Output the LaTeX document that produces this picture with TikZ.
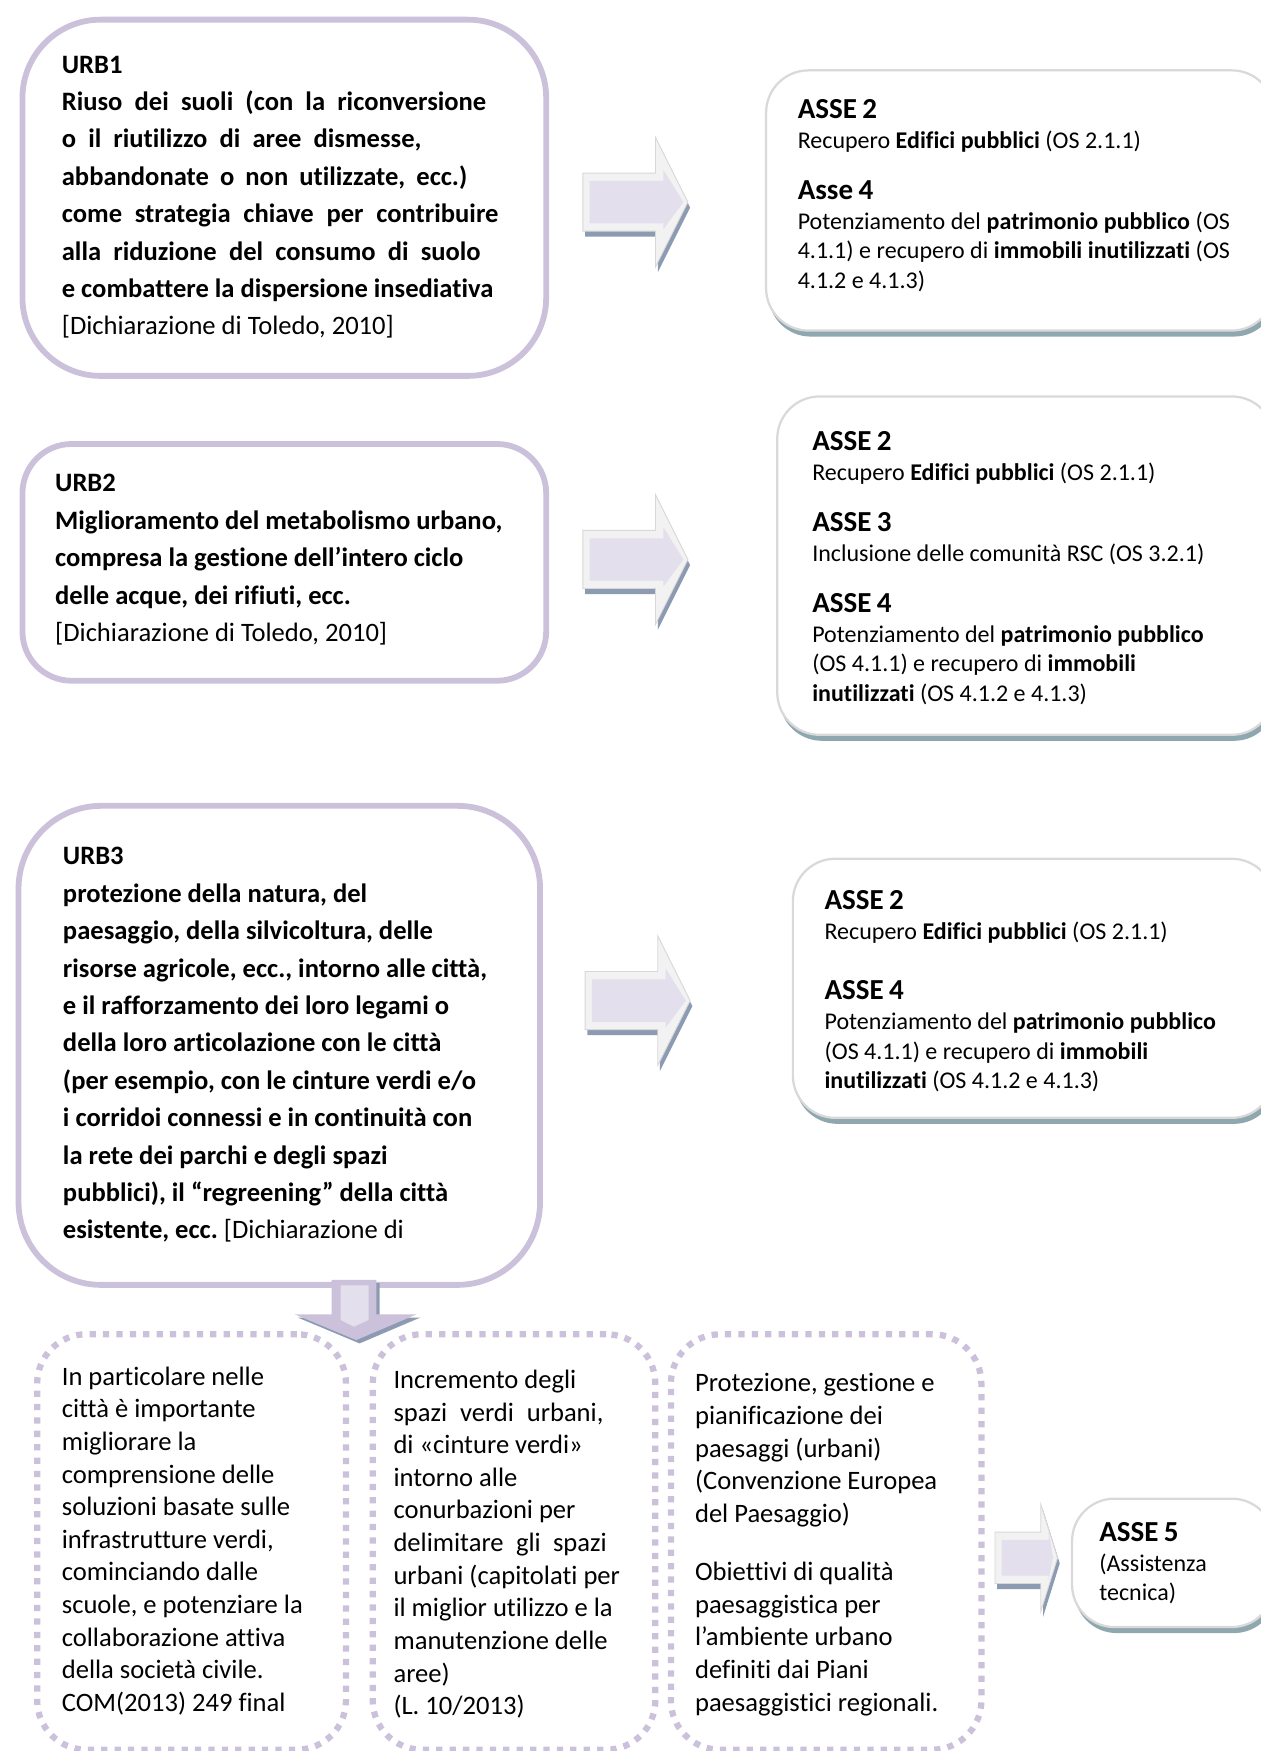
\documentclass[tikz,border=0pt]{standalone}
\usepackage{fontspec}
\setmainfont{Carlito}[Ligatures=NoCommon]
\frenchspacing
\usetikzlibrary{shadows}
\definecolor{lav}{RGB}{204,193,218}
\definecolor{lavlight}{RGB}{228,223,236}
\definecolor{arrlight}{RGB}{242,242,242}
\definecolor{arredge}{RGB}{215,215,215}
\definecolor{slate}{RGB}{140,155,178}
\definecolor{rborder}{RGB}{217,217,217}
\definecolor{rshadow}{RGB}{143,168,176}
\newcommand\myurbfont{\fontsize{11.9}{16.75}\selectfont\frenchspacing}
\newcommand\mybodyfont{\fontsize{10.75}{13.25}\selectfont\frenchspacing}
\newcommand\myheadfont{\fontsize{13}{13.25}\selectfont\bfseries}
\newcommand\mybotfont{\fontsize{11.9}{14.6}\selectfont\frenchspacing}
\newcommand\tsp{\spaceskip=.226em\relax\xspaceskip=.226em\relax}
\newcommand\jline[2]{\makebox[#1][s]{\spaceskip=.226em plus 1fil\relax\xspaceskip=.226em plus 1fil\relax #2}}
\newcommand\rightblockarrow[6]{%
  \begin{scope}[shift={(#1,#2)}]
    \fill[slate, shift={(2,5)}] (0,-#4) -- (#3,-#4) -- (#3,-#5) -- ({#3+#6},0) -- (#3,#5) -- (#3,#4) -- (0,#4) -- cycle;
    \filldraw[fill=arrlight, draw=arredge, line width=0.4pt] (0,-#4) -- (#3,-#4) -- (#3,-#5) -- ({#3+#6},0) -- (#3,#5) -- (#3,#4) -- (0,#4) -- cycle;
    \fill[lavlight] (6,{-#4+7}) -- ({#3+7},{-#4+7}) -- ({#3+7},{-0.5*#5}) -- ({#3+#6-4},0) -- ({#3+7},{0.42*#5}) -- ({#3+7},{#4-7}) -- (6,{#4-7}) -- cycle;
  \end{scope}}
\tikzset{
  urbbox/.style={draw=lav, line width=2.6pt, fill=white, rectangle, anchor=north west, inner sep=0pt},
  rbox/.style={draw=rborder, line width=1pt, fill=white, rectangle, anchor=north west, inner sep=0pt, rounded corners=19pt,
    drop shadow={shadow xshift=1pt, shadow yshift=-2.7pt, fill=rshadow, opacity=1}},
  dotbox/.style={draw=lav, line width=2.8pt, dash pattern=on 2.8pt off 3.2pt, rectangle, anchor=north west, inner sep=0pt, rounded corners=22pt},
  txt/.style={anchor=north west, inner sep=0pt, align=left, text width=#1},
}
\begin{document}
\begin{tikzpicture}[x=0.5pt, y=-0.5pt]
\path[use as bounding box] (0,0) rectangle (1129,1568);
\clip (0,0) rectangle (1129,1568);

% URB boxes
\node[urbbox, minimum width=234.5pt, minimum height=159.5pt, rounded corners=35pt] (urb1) at (17.5,15) {};
\node[urbbox, minimum width=234.5pt, minimum height=106pt, rounded corners=22pt] (urb2) at (17.5,395) {};
\node[urbbox, minimum width=233.5pt, minimum height=214.5pt, rounded corners=37pt] (urb3) at (14,719) {};

% ASSE boxes
\node[rbox, minimum width=227.5pt, minimum height=116.5pt] (ax1) at (685,62) {};
\node[rbox, minimum width=222.5pt, minimum height=151.5pt] (ax2) at (695,354) {};
\node[rbox, minimum width=215.5pt, minimum height=116pt] (ax3) at (709,768) {};
\node[rbox, minimum width=90.5pt, minimum height=57.5pt] (ax5) at (959,1341) {};

% dotted boxes
\node[dotbox, minimum width=138.25pt, minimum height=186pt] (dA) at (30.5,1192) {};
\node[dotbox, minimum width=126.5pt, minimum height=186pt] (dB) at (331,1192) {};
\node[dotbox, minimum width=139pt, minimum height=186pt] (dC) at (598,1192) {};

% block arrows to the right
\rightblockarrow{522}{181}{65}{26}{58}{29}
\rightblockarrow{522}{501}{65}{26}{58}{29}
\rightblockarrow{524}{896}{65}{26}{58}{29}
\rightblockarrow{891}{1395}{41}{23}{48}{15}

% down arrow
\fill[slate, shift={(3,3)}] (297,1146) -- (337,1146) -- (337,1177) -- (373,1177) -- (319,1200) -- (264,1177) -- (297,1177) -- cycle;
\fill[lav] (297,1146) -- (337,1146) -- (337,1177) -- (373,1177) -- (319,1200) -- (264,1177) -- (297,1177) -- cycle;
\fill[lavlight] (305,1151) -- (330,1151) -- (330,1182) -- (317,1188) -- (305,1182) -- cycle;

% texts
\node[txt=210pt, font=\myurbfont\bfseries] (t1) at (55,45) {\tsp\rule{0pt}{10pt}URB1\\
\jline{190pt}{Riuso dei suoli (con la riconversione}\\
\jline{161pt}{o il riutilizzo di aree dismesse,}\\
\jline{181.5pt}{abbandonate o non utilizzate, ecc.)}\\
\jline{195.5pt}{come strategia chiave per contribuire}\\
\jline{187.5pt}{alla riduzione del consumo di suolo}\\
e combattere la dispersione insediativa\\
{\mdseries [Dichiarazione di Toledo, 2010]}};

\node[txt=210pt, font=\myurbfont\bfseries] (t2) at (49,420) {\tsp\rule{0pt}{10pt}URB2\\
Miglioramento del metabolismo urbano,\\
compresa la gestione dell’intero ciclo\\
delle acque, dei rifiuti, ecc.\\
{\mdseries [Dichiarazione di Toledo, 2010]}};

\node[txt=210pt, font=\myurbfont\bfseries] (t3) at (56,754) {\tsp\rule{0pt}{10pt}URB3\\
protezione della natura, del\\
paesaggio, della silvicoltura, delle\\
risorse agricole, ecc., intorno alle città,\\
e il rafforzamento dei loro legami o\\
della loro articolazione con le città\\
(per esempio, con le cinture verdi e/o\\
i corridoi connessi e in continuità con\\
la rete dei parchi e degli spazi\\
pubblici), il “regreening” della città\\
esistente, ecc. {\mdseries [Dichiarazione di}};

\node[txt=200pt, font=\mybodyfont] (t4) at (714,86) {\tsp\rule{0pt}{10pt}{\myheadfont ASSE 2}\\
Recupero \textbf{Edifici pubblici} (OS 2.1.1)\\[9.75pt]
{\myheadfont Asse 4}\\
\jline{193.5pt}{Potenziamento del \textbf{patrimonio pubblico} (OS}\\
\jline{193.5pt}{4.1.1) e recupero di \textbf{immobili inutilizzati} (OS}\\
4.1.2 e 4.1.3)};

\node[txt=200pt, font=\mybodyfont] (t5) at (727,383) {\tsp\rule{0pt}{10pt}{\myheadfont ASSE 2}\\
Recupero \textbf{Edifici pubblici} (OS 2.1.1)\\[9.75pt]
{\myheadfont ASSE 3}\\
Inclusione delle comunità RSC (OS 3.2.1)\\[9.75pt]
{\myheadfont ASSE 4}\\
Potenziamento del \textbf{patrimonio pubblico}\\
(OS 4.1.1) e recupero di \textbf{immobili}\\
\textbf{inutilizzati} (OS 4.1.2 e 4.1.3)};

\node[txt=200pt, font=\mybodyfont] (t6) at (738,794) {\tsp\rule{0pt}{10pt}{\myheadfont ASSE 2}\\
Recupero \textbf{Edifici pubblici} (OS 2.1.1)\\[14pt]
{\myheadfont ASSE 4}\\
Potenziamento del \textbf{patrimonio pubblico}\\
(OS 4.1.1) e recupero di \textbf{immobili}\\
\textbf{inutilizzati} (OS 4.1.2 e 4.1.3)};

\node[txt=80pt, font=\mybodyfont] (t7) at (984,1360) {\tsp\rule{0pt}{10pt}{\myheadfont ASSE 5}\\
(Assistenza\\
tecnica)};

\node[txt=130pt, font=\mybotfont] (t8) at (55,1220) {\tsp\rule{0pt}{10pt}In particolare nelle\\
città è importante\\
migliorare la\\
comprensione delle\\
soluzioni basate sulle\\
infrastrutture verdi,\\
cominciando dalle\\
scuole, e potenziare la\\
collaborazione attiva\\
della società civile.\\
COM(2013) 249 final};

\node[txt=115pt, font=\mybotfont] (t9) at (352,1223) {\tsp\rule{0pt}{10pt}Incremento degli\\
\jline{94pt}{spazi verdi urbani,}\\
di «cinture verdi»\\
intorno alle\\
conurbazioni per\\
\jline{95.5pt}{delimitare gli spazi}\\
urbani (capitolati per\\
il miglior utilizzo e la\\
manutenzione delle\\
aree)\\
(L. 10/2013)};

\node[txt=125pt, font=\mybotfont] (t10) at (622,1226) {\tsp\rule{0pt}{10pt}Protezione, gestione e\\
pianificazione dei\\
paesaggi (urbani)\\
(Convenzione Europea\\
del Paesaggio)\\[11.5pt]
Obiettivi di qualità\\
paesaggistica per\\
l’ambiente urbano\\
definiti dai Piani\\
paesaggistici regionali.};
\end{tikzpicture}
\end{document}
